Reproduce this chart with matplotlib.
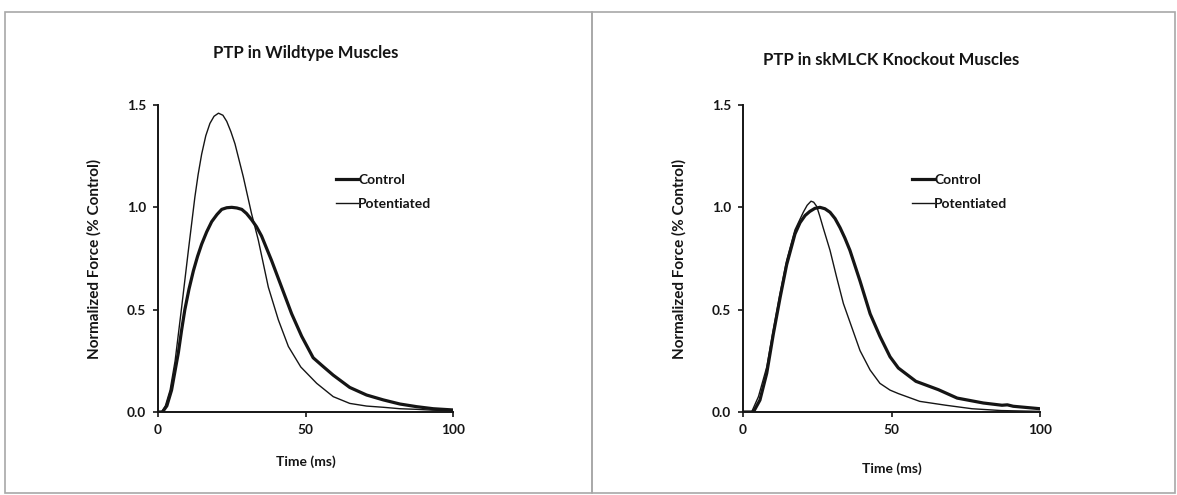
"""
PTP twitch force traces, wildtype vs skMLCK knockout
"""
import matplotlib
matplotlib.use('Agg')
import matplotlib.pyplot as plt
from matplotlib.patches import Rectangle

plt.rcParams['font.family'] = ['Lato', 'DejaVu Sans']
plt.rcParams['font.weight'] = 'bold'

# values (time in ms, force normalised to control peak)
wt_control_t = [0, 1.5, 3, 4.6, 6.9, 8.0, 9.1, 10.5, 12, 13.4, 14.8, 16.5, 18.2, 20, 21.6, 23.3,
                25, 26.7, 28.4, 30, 31.7, 33.4, 35.1, 36.8, 38.5, 41.9, 45.3, 48.7, 52.6,
                56, 59.4, 65, 70.7, 76.4, 82, 87.7, 93.3, 100]
wt_control_y = [0, 0, 0.03, 0.107, 0.29, 0.40, 0.50, 0.60, 0.69, 0.76, 0.82, 0.88, 0.93, 0.965, 0.99, 0.998,
                1.0, 0.997, 0.99, 0.97, 0.94, 0.905, 0.86, 0.80, 0.74, 0.61, 0.48, 0.37, 0.265,
                0.222, 0.18, 0.12, 0.083, 0.059, 0.039, 0.026, 0.016, 0.01]

wt_potent_t = [0, 1.2, 2.5, 4.1, 5.8, 8.0, 10.3, 11.4, 12.5, 13.6, 14.8, 16.2, 17.6, 19, 20.5,
               22, 23.3, 24.7, 26.1, 28.9, 31.7, 34.0, 37.4, 40.8, 44.2, 48.4, 53.8, 59.4,
               65, 70.7, 76.4, 82, 87.7, 93, 100]
wt_potent_y = [0, 0, 0.03, 0.107, 0.25, 0.51, 0.79, 0.92, 1.05, 1.16, 1.26, 1.35, 1.41, 1.445, 1.46,
               1.45, 1.42, 1.37, 1.31, 1.15, 0.97, 0.84, 0.61, 0.45, 0.32, 0.22, 0.14, 0.075,
               0.042, 0.029, 0.023, 0.016, 0.013, 0.009, 0.006]

ko_control_t = [0, 3.5, 5.7, 8.0, 10.2, 12.5, 14.7, 17.5, 19.2, 20.9, 22.5, 24.2, 25.9, 27.6,
                29.3, 31, 32.7, 34.3, 36, 39.4, 42.8, 46.1, 49.5, 52.3, 58.2, 65.8, 72.1,
                80.9, 87.2, 89, 91, 100]
ko_control_y = [0, 0, 0.058, 0.19, 0.38, 0.56, 0.72, 0.87, 0.925, 0.96, 0.98, 0.995, 1.0, 0.993,
                0.976, 0.945, 0.90, 0.85, 0.79, 0.64, 0.48, 0.37, 0.27, 0.215, 0.15, 0.109, 0.068,
                0.044, 0.033, 0.035, 0.028, 0.016]

ko_potent_t = [0, 2.9, 5.2, 8.0, 10.2, 12.5, 14.7, 17.5, 20.3, 21.6, 22.9, 23.8, 24.8, 25.9,
               27, 29.3, 31.5, 33.8, 36.6, 39.4, 42.8, 46.1, 49.5, 52.3, 59.5, 68.3, 77.1, 87, 100]
ko_potent_y = [0, 0, 0.075, 0.22, 0.40, 0.58, 0.74, 0.89, 0.976, 1.01, 1.03, 1.025, 1.005, 0.955,
               0.90, 0.79, 0.66, 0.53, 0.415, 0.30, 0.205, 0.14, 0.107, 0.09, 0.052, 0.033, 0.016,
               0.007, 0.003]

titles = ['PTP in Wildtype Muscles', 'PTP in skMLCK Knockout Muscles']
series_names = ['Control', 'Potentiated']
x_ticks = [0, 50, 100]
y_ticks = [0.0, 0.5, 1.0, 1.5]

INK = '#151515'
W, H = 1177, 495


def plot_panel(ax, ctrl, pot, title, leg_x, title_pad, xlabel_pad):
    ax.plot(*ctrl, color=INK, lw=2.3, solid_joinstyle='round', label=series_names[0])
    ax.plot(*pot, color=INK, lw=1.0, solid_joinstyle='round', label=series_names[1])
    ax.set_xlim(0, 100)
    ax.set_ylim(0, 1.5)
    ax.set_xticks(x_ticks)
    ax.set_yticks(y_ticks)
    ax.set_yticklabels([f'{v:.1f}' for v in y_ticks])
    for side in ('top', 'right'):
        ax.spines[side].set_visible(False)
    for side in ('left', 'bottom'):
        ax.spines[side].set_linewidth(1.4)
        ax.spines[side].set_color(INK)
    ax.tick_params(direction='out', length=3.5, width=1.2, color=INK,
                   labelsize=9.8, labelcolor=INK, pad=5)
    ax.set_xlabel('Time (ms)', fontsize=10, fontweight='bold', color=INK, labelpad=xlabel_pad)
    ax.set_ylabel('Normalized Force (% Control)', fontsize=11, fontweight='bold',
                  color=INK, labelpad=18)
    ax.set_title(title, fontsize=12, fontweight='bold', color=INK, pad=title_pad)
    ax.legend(loc='upper left', bbox_to_anchor=(leg_x, 0.775), frameon=False,
              fontsize=10, handlelength=1.6, handletextpad=0.0, borderpad=0,
              borderaxespad=0, labelspacing=0.85, labelcolor=INK)


fig = plt.figure(figsize=(W / 100, H / 100), dpi=100)

# scanned panel frames
for x0, x1 in [(5, 592), (592, 1175)]:
    fig.add_artist(Rectangle((x0 / W, 1 - 493 / H), (x1 - x0) / W, (493 - 12) / H,
                             transform=fig.transFigure, fill=False,
                             edgecolor='#a8a8a8', lw=1.2))

ax1 = fig.add_axes([158 / W, 1 - 412 / H, 295 / W, 307 / H])
ax2 = fig.add_axes([743 / W, 1 - 412 / H, 297 / W, 307 / H])

plot_panel(ax1, (wt_control_t, wt_control_y), (wt_potent_t, wt_potent_y), titles[0], 0.603, 34, 14)
plot_panel(ax2, (ko_control_t, ko_control_y), (ko_potent_t, ko_potent_y), titles[1], 0.569, 29, 19)

fig.savefig('out.png', dpi=100)
